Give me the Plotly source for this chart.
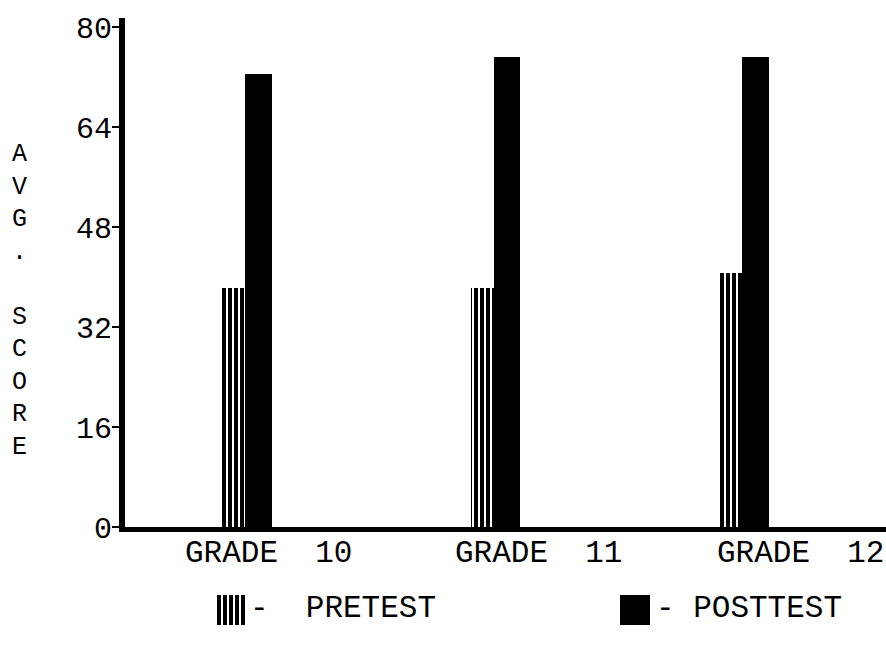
import plotly.graph_objects as go

# ---- data ----
grades = ["GRADE\u00a0\u00a010", "GRADE\u00a0\u00a011", "GRADE\u00a0\u00a012"]
pretest = [38.3, 38.2, 40.6]
posttest = [72.6, 75.3, 75.2]
y_ticks = [0, 16, 32, 48, 64, 80]
series_names = ["PRETEST", "POSTTEST"]
ylabel_letters = ["A", "V", "G", ".", "\u00a0", "S", "C", "O", "R", "E"]

# ---- styling / layout ----
FONT = "Liberation Mono, Courier New, monospace"
xpos = list(range(len(grades)))
label_shift = [-0.25, -0.163, -0.109]
pre_pattern = dict(shape="|", fgcolor="black", bgcolor="white", size=6,
                   solidity=0.667, fgopacity=1, fillmode="replace")

fig = go.Figure()
fig.add_trace(go.Bar(
    x=xpos, y=pretest, width=0.092, offset=-0.092, name=series_names[0],
    marker=dict(color="white", line=dict(width=0), pattern=pre_pattern),
    showlegend=False))
fig.add_trace(go.Bar(
    x=xpos, y=posttest, width=0.108, offset=0, name=series_names[1],
    marker=dict(color="black", line=dict(width=0)),
    showlegend=False))

# legend swatches drawn on a small helper axis
fig.add_trace(go.Bar(
    x=[0], y=[1], width=0.0743, xaxis="x2", yaxis="y2",
    marker=dict(color="white", line=dict(width=0), pattern=pre_pattern),
    showlegend=False, hoverinfo="skip"))
fig.add_trace(go.Bar(
    x=[1], y=[1], width=0.0743, xaxis="x2", yaxis="y2",
    marker=dict(color="black", line=dict(width=0)),
    showlegend=False, hoverinfo="skip"))

annotations = []
for i, g in enumerate(grades):
    annotations.append(dict(
        x=xpos[i] + label_shift[i], xref="x", y=0.1357, yref="paper",
        xanchor="left", yanchor="middle", text=g, showarrow=False,
        font=dict(family=FONT, size=31, color="black")))
annotations.append(dict(
    x=-0.138, xref="paper", y=0.5425, yref="paper", xanchor="center", yanchor="middle",
    text="<br>".join(ylabel_letters), showarrow=False,
    font=dict(family=FONT, size=25, color="black")))
annotations.append(dict(
    x=(248 - 125) / 761, xref="paper", y=0.0468, yref="paper", xanchor="left", yanchor="middle",
    text="-\u00a0\u00a0" + series_names[0], showarrow=False,
    font=dict(family=FONT, size=31, color="black")))
annotations.append(dict(
    x=(654 - 125) / 761, xref="paper", y=0.0468, yref="paper", xanchor="left", yanchor="middle",
    text="-\u00a0" + series_names[1], showarrow=False,
    font=dict(family=FONT, size=31, color="black")))

fig.update_layout(
    width=886, height=657,
    margin=dict(l=125, r=0, t=18, b=20, autoexpand=False),
    paper_bgcolor="white", plot_bgcolor="white",
    barmode="overlay", bargap=0,
    font=dict(family=FONT, color="black"),
    xaxis=dict(domain=[0, 1], range=[-0.483, 2.579], showline=True, linewidth=5,
               linecolor="black", showticklabels=False, ticks="", showgrid=False,
               zeroline=False, anchor="y", fixedrange=True, automargin=False),
    yaxis=dict(domain=[0.1777, 1], range=[0, 81.5], tickvals=y_ticks, ticks="outside",
               ticklen=7, tickwidth=2, tickcolor="black", showline=True, linewidth=6,
               linecolor="black", showgrid=False, zeroline=False, anchor="x",
               tickfont=dict(family=FONT, size=30, color="black"), fixedrange=True,
               automargin=False, ticklabelstandoff=-6),
    xaxis2=dict(domain=[(216 - 125) / 761, (650 - 125) / 761], range=[-0.0371, 1.0371],
                anchor="y2", visible=False, automargin=False),
    yaxis2=dict(domain=[0.0194, 0.0679], range=[0, 1], anchor="x2", visible=False,
                automargin=False),
    annotations=annotations,
)

fig.write_html(
    "out.html",
    config={"displayModeBar": False, "staticPlot": True},
    post_script="document.body.style.margin='0';document.body.style.padding='0';",
)
